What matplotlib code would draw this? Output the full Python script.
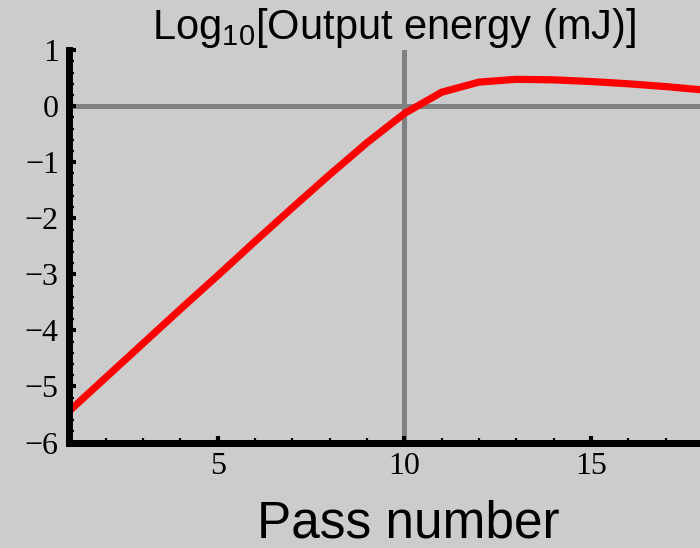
import numpy as np
import matplotlib
matplotlib.use("Agg")
import matplotlib.pyplot as plt
from matplotlib.ticker import MultipleLocator

# data
passes = np.arange(1, 19)
log_energy = [-5.45, -4.84, -4.23, -3.62, -3.02, -2.41, -1.81, -1.22, -0.65,
              -0.13, 0.25, 0.43, 0.48, 0.47, 0.44, 0.40, 0.35, 0.29]
x_major = [5, 10, 15]
y_major = [-6, -5, -4, -3, -2, -1, 0, 1]

plt.rcParams["mathtext.fontset"] = "custom"
plt.rcParams["mathtext.rm"] = "Liberation Sans"
plt.rcParams["mathtext.it"] = "Liberation Sans:italic"

bg = "#cccccc"
fig = plt.figure(figsize=(7.0, 5.48), dpi=100, facecolor=bg)
ax = fig.add_axes([0.0979, 0.1925, 0.9021, 0.716], facecolor=bg)

# reference lines
ax.axvline(10, color="#808080", lw=3.6, zorder=1)
ax.axhline(0, color="#808080", lw=3.6, zorder=1)

ax.plot(passes, log_energy, color="#ff0000", lw=5.2, zorder=3,
        solid_joinstyle="round")

ax.set_xlim(1, 17.92)
ax.set_ylim(-6, 1)

ax.set_xticks(x_major)
ax.set_yticks(y_major)
ax.xaxis.set_minor_locator(MultipleLocator(1))
ax.yaxis.set_minor_locator(MultipleLocator(0.2))

ax.tick_params(which="both", direction="in", color="black")
ax.tick_params(which="major", length=4.8, width=3.0, pad=7,
               labelsize=23, labelfontfamily="Liberation Serif")
ax.tick_params(which="minor", length=3.4, width=1.6)

for s in ["top", "right"]:
    ax.spines[s].set_visible(False)
for s in ["left", "bottom"]:
    ax.spines[s].set_linewidth(5.0)
    ax.spines[s].set_zorder(5)

fig.text(0.563, 0.928, r"Log$_{\mathrm{10}}$[Output energy (mJ)]", ha="center",
         va="baseline", fontsize=30, family="Liberation Sans")
fig.text(0.583, 0.02, "Pass number", ha="center", va="baseline",
         fontsize=37, family="Liberation Sans")

plt.savefig("out.png", dpi=100, facecolor=bg)
